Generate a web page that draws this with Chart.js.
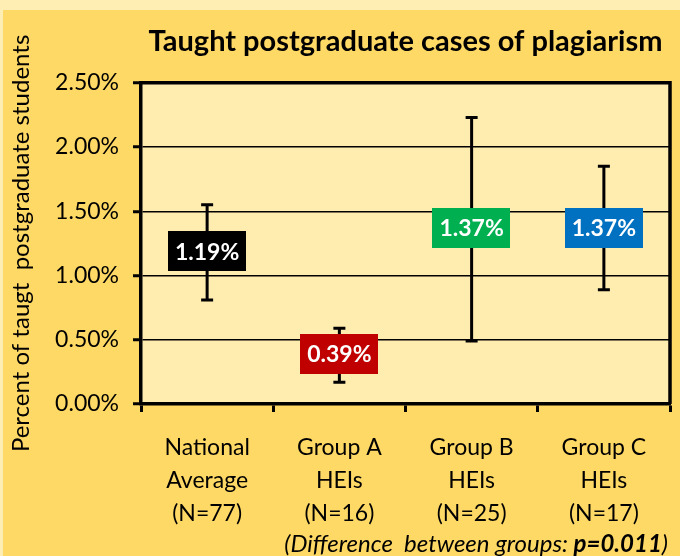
<!DOCTYPE html>
<html>
<head>
<meta charset="utf-8">
<script src="https://cdn.jsdelivr.net/npm/chart.js@4"></script>
<style>
  html, body { margin: 0; padding: 0; background: #FFEEB4; }
  #wrap { width: 680px; height: 556px; }
</style>
</head>
<body>
<div id="wrap"><canvas id="plagChart" width="680" height="556"></canvas></div>
<script>
// data (percent of taught postgraduate students)
const categories = [
  ['National', 'Average', '(N=77)'],
  ['Group A', 'HEIs', '(N=16)'],
  ['Group B', 'HEIs', '(N=25)'],
  ['Group C', 'HEIs', '(N=17)']
];
const meanValues = [1.19, 0.39, 1.37, 1.37];
const lowerValues = [0.81, 0.17, 0.49, 0.89];
const upperValues = [1.55, 0.59, 2.23, 1.85];
const yTicks = [0, 0.5, 1, 1.5, 2, 2.5];

const boxColors = ['#000000', '#C00000', '#00B050', '#0070C0'];
const FONT = 'Lato, "Open Sans", sans-serif';

// panel + plot area backgrounds, error bars, value boxes, footnote
const decorPlugin = {
  id: 'decor',
  beforeDraw(chart) {
    const ctx = chart.ctx;
    const a = chart.chartArea;
    ctx.save();
    ctx.fillStyle = '#FFD966';
    ctx.fillRect(3, 10, chart.width - 3, chart.height - 10);
    ctx.fillStyle = '#FFEDB0';
    ctx.fillRect(a.left, a.top, a.right - a.left, a.bottom - a.top);
    ctx.restore();
  },
  afterDatasetsDraw(chart) {
    const ctx = chart.ctx;
    const xs = chart.scales.x;
    const ys = chart.scales.y;
    const a = chart.chartArea;
    ctx.save();
    // frame on top and right
    ctx.strokeStyle = '#000';
    ctx.lineWidth = 3.5;
    ctx.beginPath();
    ctx.moveTo(a.left, a.top);
    ctx.lineTo(a.right, a.top);
    ctx.lineTo(a.right, a.bottom);
    ctx.stroke();

    meanValues.forEach((m, i) => {
      const x = xs.getPixelForValue(i);
      const yTop = ys.getPixelForValue(upperValues[i]);
      const yBot = ys.getPixelForValue(lowerValues[i]);
      const yMid = ys.getPixelForValue(m);
      ctx.strokeStyle = '#000';
      ctx.lineWidth = 3;
      ctx.beginPath();
      ctx.moveTo(x, yTop);
      ctx.lineTo(x, yBot);
      ctx.moveTo(x - 6, yTop);
      ctx.lineTo(x + 6, yTop);
      ctx.moveTo(x - 6, yBot);
      ctx.lineTo(x + 6, yBot);
      ctx.stroke();

      const txt = m.toFixed(2) + '%';
      ctx.font = 'bold 23px ' + FONT;
      const w = ctx.measureText(txt).width + 14;
      const h = 40;
      ctx.fillStyle = boxColors[i];
      ctx.fillRect(Math.round(x - w / 2), Math.round(yMid - h / 2), Math.round(w), h);
      ctx.fillStyle = '#fff';
      ctx.textAlign = 'center';
      ctx.textBaseline = 'middle';
      ctx.fillText(txt, x, yMid + 1);
    });

    // footnote with bold p value
    const right = 668, base = 552;
    const partA = '(Difference  between groups: ';
    const partB = 'p=0.011';
    const partC = ')';
    const fs = 24;
    ctx.fillStyle = '#000';
    ctx.textBaseline = 'alphabetic';
    ctx.textAlign = 'left';
    ctx.font = 'italic ' + fs + 'px ' + FONT;
    const wC = ctx.measureText(partC).width;
    const wA = ctx.measureText(partA).width;
    ctx.font = 'italic bold ' + fs + 'px ' + FONT;
    const wB = ctx.measureText(partB).width;
    let x0 = right - wC - wB - wA;
    ctx.font = 'italic ' + fs + 'px ' + FONT;
    ctx.fillText(partA, x0, base);
    ctx.font = 'italic bold ' + fs + 'px ' + FONT;
    ctx.fillText(partB, x0 + wA, base);
    ctx.font = 'italic ' + fs + 'px ' + FONT;
    ctx.fillText(partC, x0 + wA + wB, base);
    ctx.restore();
  }
};

const ctx = document.getElementById('plagChart').getContext('2d');
const plagChart = new Chart(ctx, {
  type: 'line',
  data: {
    labels: categories,
    datasets: [{
      label: 'Mean',
      data: meanValues,
      showLine: false,
      pointRadius: 0,
      pointHoverRadius: 0
    }]
  },
  options: {
    responsive: false,
    animation: false,
    devicePixelRatio: 1,
    events: [],
    layout: { padding: { left: 0, right: 10, top: 0, bottom: 0 } },
    plugins: {
      legend: { display: false },
      tooltip: { enabled: false },
      title: {
        display: true,
        fullSize: false,
        text: 'Taught postgraduate cases of plagiarism',
        color: '#000',
        font: { family: FONT, size: 29, weight: 'bold', lineHeight: 1.2 },
        padding: { top: 24, bottom: 24 }
      }
    },
    scales: {
      x: {
        type: 'category',
        offset: true,
        afterFit(scale) { scale.height = 152; },
        grid: {
          offset: true,
          drawOnChartArea: false,
          color: '#000',
          tickColor: '#000',
          tickWidth: 3,
          tickLength: 8
        },
        border: { display: true, color: '#000', width: 3.5 },
        ticks: {
          color: '#000',
          padding: 19,
          maxRotation: 0,
          font: { family: FONT, size: 23, lineHeight: 1.43 }
        }
      },
      y: {
        min: 0,
        max: 2.5,
        afterFit(scale) { scale.width = 141; },
        afterBuildTicks(scale) { scale.ticks = yTicks.map(v => ({ value: v })); },
        grid: {
          color: '#000',
          lineWidth: 1.5,
          tickColor: '#000',
          tickWidth: 3,
          tickLength: 8
        },
        border: { display: true, color: '#000', width: 3.5 },
        ticks: {
          color: '#000',
          padding: 14,
          font: { family: FONT, size: 23 },
          callback: v => Number(v).toFixed(2) + '%'
        },
        title: {
          display: true,
          text: 'Percent of taugt  postgraduate students',
          color: '#000',
          font: { family: FONT, size: 24, lineHeight: 1.2 },
          padding: { top: 7, bottom: 0 }
        }
      }
    }
  },
  plugins: [decorPlugin]
});
</script>
</body>
</html>
